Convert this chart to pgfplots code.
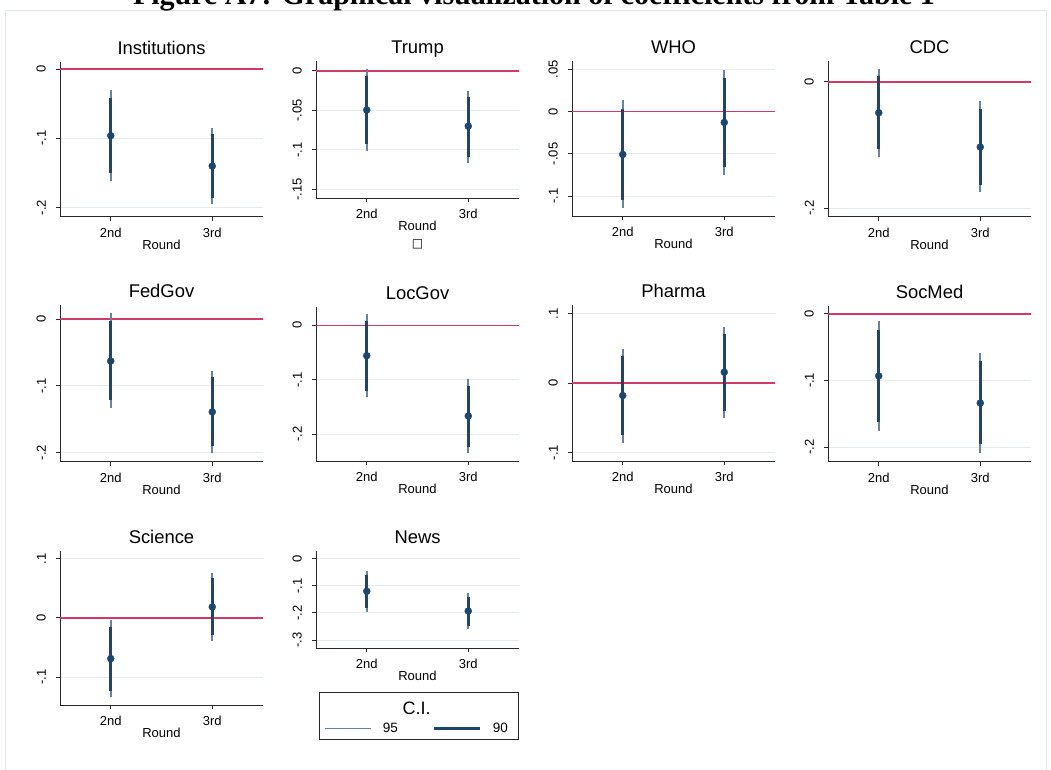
\documentclass[border=0pt]{standalone}
\usepackage{fontspec}
\setmainfont{Liberation Sans}
\newfontfamily\titlefont{Liberation Serif}
\newfontfamily\dejavu{DejaVu Sans}
\usepackage{pgfplots}
\pgfplotsset{compat=1.18}
\definecolor{navyc}{RGB}{26,71,111}
\definecolor{ci95c}{RGB}{100,132,165}
\definecolor{zeroc}{RGB}{205,60,100}
\definecolor{gridc}{RGB}{226,235,238}
\definecolor{framec}{RGB}{222,230,233}
\definecolor{axisc}{RGB}{40,40,40}

% x, point, lo95, hi95, lo90, hi90
\newcommand{\ci}[6]{%
 \addplot[forget plot, ci95c, line width=1.6pt] coordinates {(#1,#3) (#1,#4)};
 \addplot[forget plot, navyc, line width=3pt] coordinates {(#1,#5) (#1,#6)};
 \addplot[forget plot, navyc, only marks, mark=*, mark size=3.5pt] coordinates {(#1,#2)};
}
\newcommand{\zeroline}{\addplot[forget plot, zeroc, line width=1.7pt] coordinates {(0.5,0) (2.5,0)};}

\pgfplotsset{panel/.style={
  scale only axis, width=203pt, anchor=south west,
  xmin=0.5, xmax=2.5, xtick={1,2}, xticklabels={2nd,3rd},
  axis x line*=bottom, axis y line*=left,
  axis line style={-, axisc, line width=0.9pt},
  tick align=outside, major tick length=4pt,
  tick style={axisc, line width=0.9pt},
  ymajorgrids, grid style={gridc, line width=0.9pt},
  title style={font=\fontsize{18.4}{21}\selectfont, anchor=base, at={(0.5,1)}, yshift=1.5pt},
  xlabel=Round,
  xlabel style={font=\fontsize{13}{15}\selectfont, at={(axis description cs:0.5,0)}, anchor=base, yshift=-32.5pt},
  tick label style={font=\fontsize{13}{15}\selectfont},
  xticklabel style={anchor=base, yshift=-16.5pt},
  yticklabel style={rotate=90, anchor=south, inner sep=0pt},
  yticklabel shift=10pt,
  clip=false,
}}

\begin{document}
\begin{tikzpicture}[x=1pt,y=1pt]
\useasboundingbox (0,0) rectangle (1051,770);
\fill[white] (0,0) rectangle (1051,770);
\draw[framec, line width=0.9pt] (5,-10) -- (5,760) -- (1046,760) -- (1046,-10);
\node[anchor=base, font=\titlefont\bfseries\fontsize{30}{34}\selectfont] at (534,765) {Figure A7: Graphical visualization of coefficients from Table 1};

% Row 1
\begin{axis}[panel, at={(60pt,553.3pt)}, height=154.7pt, title={Institutions},
  ymin=-0.213, ymax=0.0101, ytick={-0.2,-0.1,0}, yticklabels={-.2,-.1,0}]
\zeroline
\ci{1}{-0.0962}{-0.161}{-0.0303}{-0.1505}{-0.0414}
\ci{2}{-0.140}{-0.1953}{-0.0847}{-0.1866}{-0.0938}
\end{axis}

\begin{axis}[panel, at={(316pt,571.7pt)}, height=137.6pt, title={Trump},
  ymin=-0.161, ymax=0.0126, ytick={-0.15,-0.1,-0.05,0}, yticklabels={-.15,-.1,-.05,0}]
\zeroline
\ci{1}{-0.0496}{-0.101}{0.0017}{-0.0927}{-0.0063}
\ci{2}{-0.070}{-0.1159}{-0.0252}{-0.1083}{-0.0327}
\node[font=\dejavu\fontsize{12}{14}\selectfont] at (axis description cs:0.5,-0.332) {□};
\end{axis}

\begin{axis}[panel, at={(572pt,554pt)}, height=155pt, title={WHO},
  ymin=-0.1232, ymax=0.0594, ytick={-0.1,-0.05,0,0.05}, yticklabels={-.1,-.05,0,.05}]
\zeroline
\ci{1}{-0.0507}{-0.114}{0.013}{-0.104}{0.0024}
\ci{2}{-0.0130}{-0.0747}{0.0491}{-0.0649}{0.0393}
\end{axis}

\begin{axis}[panel, at={(828pt,553.3pt)}, height=156pt, title={CDC},
  ymin=-0.2132, ymax=0.0332, ytick={-0.2,0}, yticklabels={-.2,0}]
\zeroline
\ci{1}{-0.049}{-0.1185}{0.020}{-0.1068}{0.009}
\ci{2}{-0.1032}{-0.1747}{-0.0305}{-0.163}{-0.0431}
\end{axis}

% Row 2
\begin{axis}[panel, at={(60pt,308.3pt)}, height=156.7pt, title={FedGov},
  ymin=-0.2135, ymax=0.021, ytick={-0.2,-0.1,0}, yticklabels={-.2,-.1,0}]
\zeroline
\ci{1}{-0.0629}{-0.1328}{0.0085}{-0.121}{-0.003}
\ci{2}{-0.139}{-0.200}{-0.0774}{-0.190}{-0.0873}
\end{axis}

\begin{axis}[panel, at={(316pt,309pt)}, height=154.3pt, title={LocGov},
  ymin=-0.249, ymax=0.0343, ytick={-0.2,-0.1,0}, yticklabels={-.2,-.1,0}]
\zeroline
\ci{1}{-0.0557}{-0.132}{0.0207}{-0.120}{0.0085}
\ci{2}{-0.1664}{-0.2337}{-0.0991}{-0.2227}{-0.1113}
\end{axis}

\begin{axis}[panel, at={(572pt,309pt)}, height=156pt, title={Pharma},
  ymin=-0.112, ymax=0.1125, ytick={-0.1,0,0.1}, yticklabels={-.1,0,.1}]
\zeroline
\ci{1}{-0.0178}{-0.0854}{0.0494}{-0.0744}{0.0393}
\ci{2}{0.0158}{-0.0504}{0.081}{-0.0398}{0.071}
\end{axis}

\begin{axis}[panel, at={(828pt,308.3pt)}, height=156pt, title={SocMed},
  ymin=-0.222, ymax=0.012, ytick={-0.2,-0.1,0}, yticklabels={-.2,-.1,0}]
\zeroline
\ci{1}{-0.0934}{-0.176}{-0.011}{-0.162}{-0.0245}
\ci{2}{-0.134}{-0.2085}{-0.0585}{-0.196}{-0.071}
\end{axis}

% Row 3
\begin{axis}[panel, at={(60pt,65pt)}, height=154.3pt, title={Science},
  ymin=-0.147, ymax=0.1135, ytick={-0.1,0,0.1}, yticklabels={-.1,0,.1}]
\zeroline
\ci{1}{-0.0687}{-0.134}{-0.0034}{-0.1228}{-0.0147}
\ci{2}{0.0186}{-0.0383}{0.0765}{-0.0287}{0.067}
\end{axis}

\begin{axis}[panel, at={(316pt,121.7pt)}, height=97.6pt, title={News},
  ymin=-0.3306, ymax=0.0295, ytick={-0.3,-0.2,-0.1,0}, yticklabels={-.3,-.2,-.1,0},
  legend style={draw=none, fill=none, at={(axis description cs:0.4975,-0.82)}, anchor=center,
    legend columns=2, font=\fontsize{13.5}{15}\selectfont,
    /tikz/every odd column/.append style={column sep=9pt},
    /tikz/every even column/.append style={column sep=33pt}},
  legend image code/.code={\draw[#1] (0pt,0pt) -- (46pt,0pt);}]
\ci{1}{-0.1203}{-0.197}{-0.0454}{-0.182}{-0.060}
\ci{2}{-0.193}{-0.2594}{-0.1277}{-0.2472}{-0.140}
\addlegendimage{ci95c, line width=1.6pt}\addlegendentry{95}
\addlegendimage{navyc, line width=3pt}\addlegendentry{90}
\end{axis}

\draw[axisc, line width=0.9pt] (319,30.7) rectangle (518,77.3);
\node[font=\fontsize{18}{21}\selectfont] at (416.7,62) {C.I.};
\end{tikzpicture}
\end{document}
